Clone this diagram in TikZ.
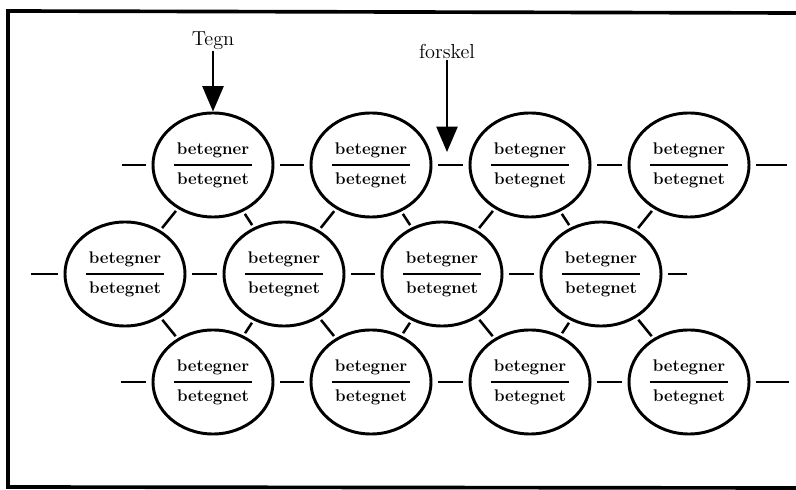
\documentclass[tikz,border=0pt]{standalone}
\usepackage{amsmath}
\usepackage{tikz}
\usetikzlibrary{positioning, calc, arrows.meta, shapes.geometric}
\newcommand{\tegnbrok}{$\genfrac{}{}{1.5pt}{0}{\text{\kern2pt\bfseries betegner\kern2pt}}{\text{\kern2pt\bfseries betegnet\kern2pt}}$}
\tikzset{
    tegnnode/.style={
        ellipse, draw, line width=2.1pt, minimum width=3cm, minimum height=2.6cm,
        inner sep=0pt, font=\large
    },
    link/.style={
        line width=1.8pt, shorten <=4pt, shorten >=4pt
    },
    pil/.style={
        -{Triangle[length=18pt,width=15pt]}, line width=1.4pt
    }
}

\begin{document}
\begin{tikzpicture}[
        x=0.025cm, y=-0.025cm,
        % --- STYLE ---
        labeltext/.style={font=\Large, inner sep=1pt},
        frame/.style={line width=2.6pt},
        skraa/.style={link, shorten <=2pt, shorten >=2pt}
    ]
        \useasboundingbox (0,0) rectangle (796,490);

        % --- 1. RAMME ---
        \draw[frame] (796,13) -- (8,11) -- (8,487) -- (796,488);

        % --- 2. TEGN (RAEKKE 1-3) ---
        \node[tegnnode] (r1a) at (213,165) {\tegnbrok};
        \node[tegnnode] (r1b) at (371,165) {\tegnbrok};
        \node[tegnnode] (r1c) at (530,165) {\tegnbrok};
        \node[tegnnode] (r1d) at (689,165) {\tegnbrok};

        \node[tegnnode] (r2a) at (125,274) {\tegnbrok};
        \node[tegnnode] (r2b) at (284,274) {\tegnbrok};
        \node[tegnnode] (r2c) at (442,274) {\tegnbrok};
        \node[tegnnode] (r2d) at (601,274) {\tegnbrok};

        \node[tegnnode] (r3a) at (213,382) {\tegnbrok};
        \node[tegnnode] (r3b) at (371,382) {\tegnbrok};
        \node[tegnnode] (r3c) at (530,382) {\tegnbrok};
        \node[tegnnode] (r3d) at (689,382) {\tegnbrok};

        % --- 3. FRIE ENDER ---
        \coordinate (s1) at (122,165);
        \coordinate (e1) at (787,165);
        \coordinate (s2) at (31,274);
        \coordinate (e2) at (687,274);
        \coordinate (s3) at (121,382);
        \coordinate (e3) at (789,382);

        % --- 4. FORBINDELSER ---
        \draw[link, shorten <=0pt] (s1) -- (r1a);
        \draw[link] (r1a) -- (r1b);
        \draw[link] (r1b) -- (r1c);
        \draw[link] (r1c) -- (r1d);
        \draw[link, shorten >=0pt] (r1d) -- (e1);

        \draw[link, shorten <=0pt] (s2) -- (r2a);
        \draw[link] (r2a) -- (r2b);
        \draw[link] (r2b) -- (r2c);
        \draw[link] (r2c) -- (r2d);
        \draw[link, shorten >=0pt] (r2d) -- (e2);

        \draw[link, shorten <=0pt] (s3) -- (r3a);
        \draw[link] (r3a) -- (r3b);
        \draw[link] (r3b) -- (r3c);
        \draw[link] (r3c) -- (r3d);
        \draw[link, shorten >=0pt] (r3d) -- (e3);

        \draw[skraa] (r1a) -- (r2a);
        \draw[skraa] (r1a) -- (r2b);
        \draw[skraa] (r1b) -- (r2b);
        \draw[skraa] (r1b) -- (r2c);
        \draw[skraa] (r1c) -- (r2c);
        \draw[skraa] (r1c) -- (r2d);
        \draw[skraa] (r1d) -- (r2d);

        \draw[skraa] (r2a) -- (r3a);
        \draw[skraa] (r2b) -- (r3a);
        \draw[skraa] (r2b) -- (r3b);
        \draw[skraa] (r2c) -- (r3b);
        \draw[skraa] (r2c) -- (r3c);
        \draw[skraa] (r2d) -- (r3c);
        \draw[skraa] (r2d) -- (r3d);

        % --- 5. TEGN OG FORSKEL ---
        \node[labeltext, above=1.5cm of r1a] (tegn) {Tegn};
        \draw[pil] (tegn) -- (r1a);

        \coordinate (gap) at (447,152);
        \node[labeltext, above=2.3cm of gap] (forskel) {forskel};
        \draw[pil] (forskel) -- (gap);

    \end{tikzpicture}
\end{document}
